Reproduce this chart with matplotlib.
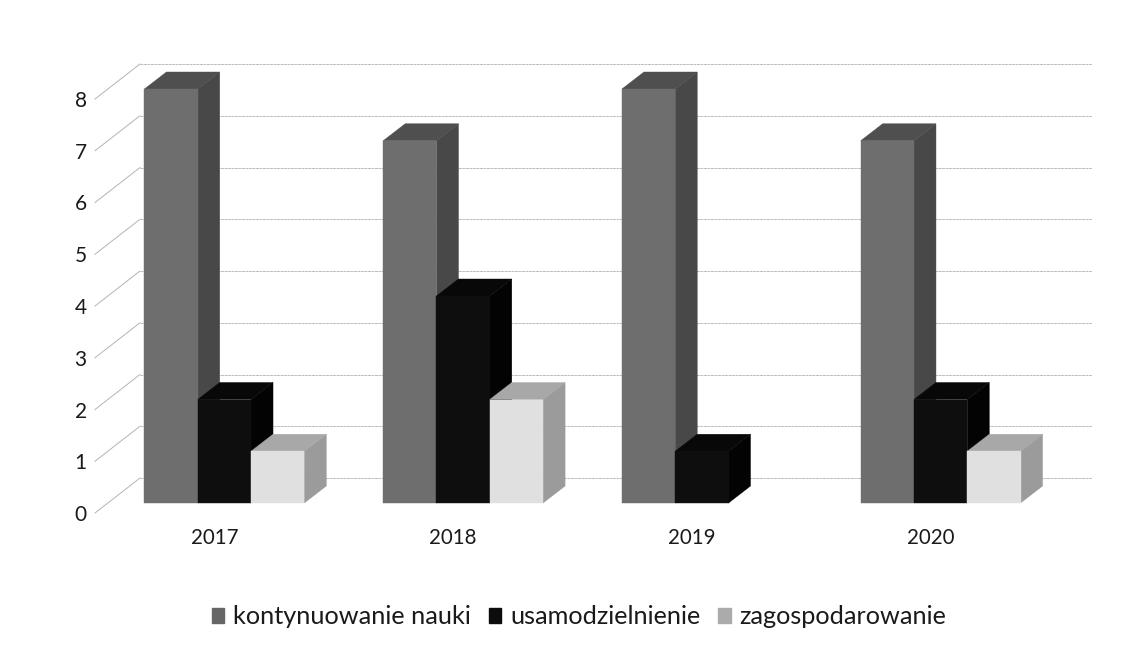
"""Recreate the 3D-look clustered bar chart of graduate plans per year."""

import matplotlib

matplotlib.use("Agg")
import matplotlib.pyplot as plt
from matplotlib.patches import Patch, Polygon

years = ["2017", "2018", "2019", "2020"]
y_ticks = [0, 1, 2, 3, 4, 5, 6, 7, 8]
series_names = ["kontynuowanie nauki", "usamodzielnienie", "zagospodarowanie"]
kontynuowanie = [8, 7, 8, 7]
usamodzielnienie = [2, 4, 1, 2]
zagospodarowanie = [1, 2, 0, 1]

# front, side, top
colors = [
    ("#6e6e6e", "#484848", "#4f4f4f"),
    ("#0e0e0e", "#030303", "#080808"),
    ("#e0e0e0", "#9b9b9b", "#a8a8a8"),
]
legend_colors = ["#666666", "#0c0c0c", "#ababab"]

W, H = 1140, 647
AX_LEFT, AX_RIGHT, AX_TOP, AX_BOTTOM = 95, 1050, 99, 513
PX_X = 4 / (AX_RIGHT - AX_LEFT)
PX_Y = 8 / (AX_BOTTOM - AX_TOP)

plt.rcParams["font.family"] = ["Lato", "DejaVu Sans"]

fig = plt.figure(figsize=(W / 100, H / 100), dpi=100, facecolor="white")
ax = fig.add_axes([
    AX_LEFT / W,
    1 - AX_BOTTOM / H,
    (AX_RIGHT - AX_LEFT) / W,
    (AX_BOTTOM - AX_TOP) / H,
])
ax.set_xlim(-0.5, 3.5)
ax.set_ylim(0, 8)
ax.patch.set_visible(False)
for spine in ax.spines.values():
    spine.set_visible(False)

ax.set_xticks(range(len(years)), years)
ax.set_yticks(y_ticks)
ax.tick_params(axis="x", length=0, pad=11, labelsize=14.8, labelcolor="#1a1a1a")
ax.tick_params(axis="y", length=0, pad=6, labelsize=15, labelcolor="#1a1a1a")

# walls: diagonal on the floor/side, then the line along the back
wall_dx = 45 * PX_X
wall_dy = 35 * PX_Y
for tick in y_ticks:
    ax.plot([-0.5, -0.5 + wall_dx], [tick, tick + wall_dy],
            color="#b4b4b4", lw=0.7, clip_on=False, zorder=1)
    ax.plot([-0.5 + wall_dx, 3.5 + 42 * PX_X], [tick + wall_dy] * 2,
            color="#bcbcbc", lw=0.7, ls=(0, (3, 0.6)), clip_on=False, zorder=1)

bar_w = 53.3 * PX_X
shift_x = 10 * PX_X
shift_y = 10 * PX_Y
depth_x = 22 * PX_X
depth_y = 17 * PX_Y

all_series = [kontynuowanie, usamodzielnienie, zagospodarowanie]
for i in range(len(years)):
    for j, values in enumerate(all_series):
        value = values[i]
        if value == 0:
            continue
        front, side, top = colors[j]
        x0 = i + shift_x + (j - 1.5) * bar_w
        x1 = x0 + bar_w
        y0 = shift_y
        y1 = value + shift_y
        z = 3 + j
        ax.add_patch(Polygon(
            [(x1, y0), (x1 + depth_x, y0 + depth_y),
             (x1 + depth_x, y1 + depth_y), (x1, y1)],
            fc=side, ec=side, lw=0.3, clip_on=False, zorder=z))
        ax.add_patch(Polygon(
            [(x0, y1), (x1, y1), (x1 + depth_x, y1 + depth_y),
             (x0 + depth_x, y1 + depth_y)],
            fc=top, ec=top, lw=0.3, clip_on=False, zorder=z))
        ax.add_patch(Polygon(
            [(x0, y0), (x1, y0), (x1, y1), (x0, y1)],
            fc=front, ec=front, lw=0.3, clip_on=False, zorder=z))

handles = [Patch(fc=c, ec=c) for c in legend_colors]
fig.legend(
    handles,
    series_names,
    loc="center",
    bbox_to_anchor=(579 / W, 1 - 617 / H),
    ncol=3,
    frameon=False,
    fontsize=18.2,
    handlelength=0.5,
    handleheight=0.5,
    handletextpad=0.35,
    columnspacing=0.7,
    labelcolor="#1a1a1a",
)

fig.savefig("out.png", dpi=100)
